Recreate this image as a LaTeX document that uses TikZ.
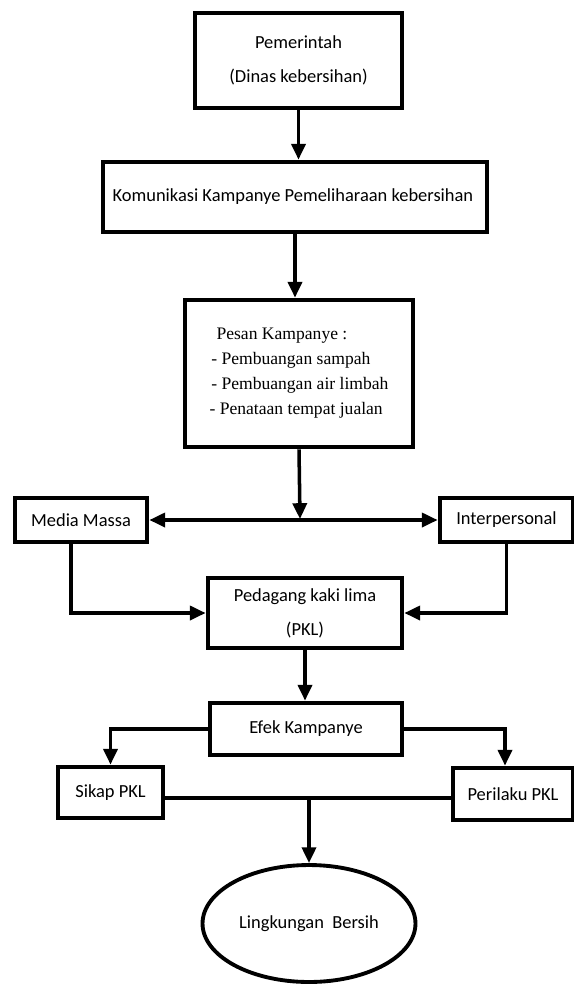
\documentclass[tikz,border=0pt]{standalone}
\usepackage{fontspec}
\setmainfont{Carlito}
\newfontfamily\pesanfont{Liberation Serif}
\usetikzlibrary{arrows.meta,calc,shapes.geometric}
\tikzset{
	kotak/.style = {
		shape=rectangle,
		draw,
		line width=2.7pt,
		align=center,
		inner sep=0pt,
		font=\fontsize{10.5}{19.5}\selectfont
	},
	panah/.style = {
		line width=2pt,
		-{Triangle[length=9pt,width=8pt]}
	},
	garis/.style = {line width=2pt}
}

\begin{document}
\begin{tikzpicture}[x=0.02cm,y=-0.02cm]
		\useasboundingbox (0,0) rectangle (574,985);
		\node[kotak, minimum width=4.14cm, minimum height=1.9cm] (pemerintah) at (298.5,60.5) {
			Pemerintah\\
			(Dinas kebersihan)
		};
		\node[kotak, minimum width=7.68cm, minimum height=1.4cm] (komunikasi) at (295,197) {
			Komunikasi Kampanye Pemeliharaan kebersihan
		};
		\node[kotak, minimum width=4.56cm, minimum height=2.94cm, align=left,
			font=\pesanfont\fontsize{10}{14.2}\selectfont] (pesan) at (299,373.5) {
			\hspace{4pt}Pesan Kampanye :\\
			\hspace{1pt}- Pembuangan sampah\\
			\hspace{1pt}- Pembuangan air limbah\\
			- Penataan tempat jualan
		};
		\node[kotak, minimum width=2.64cm, minimum height=0.88cm] (media) at (81,520) {Media Massa};
		\node[kotak, minimum width=2.66cm, minimum height=0.88cm] (inter) at (506.5,520) {Interpersonal};
		\node[kotak, minimum width=3.88cm, minimum height=1.4cm] (pkl) at (305,613) {
			Pedagang kaki lima\\
			(PKL)
		};
		\node[kotak, minimum width=3.84cm, minimum height=1.04cm] (efek) at (306,729) {Efek Kampanye};
		\node[kotak, minimum width=2.1cm, minimum height=1.02cm] (sikap) at (110.5,792.5) {Sikap PKL};
		\node[kotak, minimum width=2.4cm, minimum height=1.04cm] (perilaku) at (513,794) {Perilaku PKL};
		\node[kotak, shape=ellipse, line width=2.2pt, minimum width=4.26cm, minimum height=2.34cm] (bersih) at (309,923.5) {Lingkungan~~Bersih};

		\coordinate (cabang) at (300,519);
		\coordinate (gabung) at (309,798);

		\draw[panah] (pemerintah.south) -- (pemerintah.south |- komunikasi.north);
		\draw[panah] (komunikasi.south) -- (komunikasi.south |- pesan.north);
		\draw[panah] (pesan.south) -- (cabang);
		\draw[panah, {Triangle[length=9pt,width=8pt]}-{Triangle[length=9pt,width=8pt]}] (media) -- (inter);
		\draw[panah] ($(media.south)+(-10,0)$) |- (pkl.west);
		\draw[panah] (inter.south) |- (pkl.east);
		\draw[panah] (pkl.south) -- (pkl.south |- efek.north);
		\draw[panah] (efek.west) -| (sikap.north);
		\draw[panah] (efek.east) -| ($(perilaku.north)+(-8,0)$);
		\draw[garis] (sikap.east |- gabung) -- (perilaku.west |- gabung);
		\draw[panah] (gabung) -- (bersih.north);
\end{tikzpicture}
\end{document}
